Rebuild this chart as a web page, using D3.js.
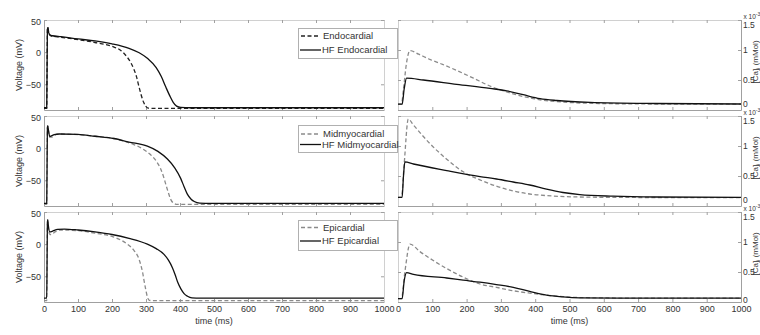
<!DOCTYPE html>
<html><head><meta charset="utf-8">
<script src="https://cdn.jsdelivr.net/npm/d3@7"></script>
<style>
body{margin:0;background:#fff;}
svg{display:block;font-family:"Liberation Sans",Arial,Helvetica,sans-serif;}
</style></head><body>
<svg id="c" width="760" height="335"></svg>
<script>
// ---------- data ----------
const timeTicks = [0,100,200,300,400,500,600,700,800,900,1000];
const voltTicks = [-50,0,50];
const caTicks = [0,0.5,1,1.5];
const normalNames = ["Endocardial","Midmyocardial","Epicardial"];
const hfNames = ["HF Endocardial","HF Midmyocardial","HF Epicardial"];

// action potentials [time ms, voltage mV]
const apEndo = [[0,-87.5],[8,-87.5],[9,-30],[10,34],[11,39],[12,37],[14,31],[17,27],[22,25],[35,24],[50,23],[100,19.5],[150,15],[200,9],[225,3],[245,-8],[255,-16],[264,-26],[272,-38],[279,-53],[286,-67],[293,-78],[299,-84],[306,-87],[330,-87.5],[1000,-87.5]];
const apEndoHF = [[0,-86.5],[8,-86.5],[9,-30],[10,35],[11,38],[12,36],[14,30],[18,26.5],[25,25.5],[50,24],[100,20.5],[150,17.5],[200,13],[250,6],[280,-1],[305,-10],[330,-24],[345,-38],[358,-54],[370,-68],[380,-78],[390,-84],[402,-86],[430,-86.5],[1000,-86.5]];
const apMid = [[0,-87.5],[8,-87.5],[9,-30],[10,30],[11,34],[13,28],[17,17],[22,17],[30,20],[45,22],[100,21],[150,18.5],[205,15],[240,10],[263,6],[290,-1],[313,-10],[330,-20],[343,-32],[352,-45],[358,-56],[365,-68],[372,-79],[380,-85],[392,-87.5],[1000,-87.5]];
const apMidHF = [[0,-86],[8,-86],[9,-30],[10,32],[11,35],[13,28],[17,18],[22,19],[30,21],[45,22],[100,21.5],[150,18.5],[205,15],[250,9.5],[304,3],[335,-5],[363,-17],[385,-31],[402,-47],[412,-60],[422,-72],[432,-79],[442,-83],[458,-85.5],[490,-86],[1000,-86]];
const apEpi = [[0,-88],[8,-88],[9,-30],[10,30],[11,34],[13,24],[17,15],[22,15],[32,19],[50,22],[100,21],[150,17],[200,12],[215,9],[245,0],[265,-10],[276,-19],[284,-31],[290,-44],[294,-56],[299,-70],[304,-82],[310,-87.5],[330,-88],[1000,-88]];
const apEpiHF = [[0,-84],[8,-84],[9,-30],[10,34],[11,38],[13,28],[17,19],[24,20],[40,23],[60,23.5],[100,22],[150,19],[200,15],[250,9],[304,0],[330,-7],[353,-16],[366,-25],[378,-37],[386,-48],[393,-59],[403,-70],[412,-77],[422,-81],[435,-83.5],[460,-84],[1000,-84]];

// calcium transients [time ms, concentration x10^-3 mMol]
const caEndo = [[0,0.097],[10,0.097],[16,0.35],[24,0.75],[35,0.99],[60,0.93],[90,0.85],[130,0.76],[171,0.66],[220,0.53],[268,0.40],[317,0.30],[365,0.225],[414,0.17],[463,0.14],[511,0.122],[560,0.112],[657,0.103],[800,0.099],[1000,0.097]];
const caEndoHF = [[0,0.097],[12,0.097],[18,0.35],[25,0.53],[74,0.50],[171,0.428],[268,0.36],[317,0.32],[365,0.255],[414,0.19],[463,0.158],[560,0.127],[750,0.108],[1000,0.1]];
const caMid = [[0,0.145],[10,0.145],[18,0.7],[30,1.45],[45,1.35],[93,1.04],[142,0.78],[190,0.57],[239,0.435],[287,0.33],[336,0.25],[384,0.2],[433,0.173],[530,0.15],[700,0.142],[1000,0.14]];
const caMidHF = [[0,0.145],[12,0.145],[16,0.5],[20,0.734],[45,0.70],[142,0.59],[239,0.49],[287,0.45],[336,0.40],[384,0.35],[433,0.28],[481,0.225],[530,0.19],[627,0.163],[750,0.15],[1000,0.145]];
const caEpi = [[0,0.057],[10,0.057],[20,0.5],[35,0.966],[64,0.84],[93,0.727],[142,0.557],[190,0.415],[239,0.30],[287,0.244],[336,0.1875],[384,0.148],[433,0.114],[481,0.09],[530,0.074],[650,0.066],[1000,0.065]];
const caEpiHF = [[0,0.057],[12,0.057],[18,0.35],[25,0.49],[45,0.46],[142,0.40],[190,0.364],[239,0.33],[287,0.29],[336,0.244],[384,0.176],[433,0.114],[481,0.085],[530,0.07],[650,0.065],[1000,0.065]];

// ---------- layout ----------
const rowsAP = [[apEndo, apEndoHF],[apMid, apMidHF],[apEpi, apEpiHF]];
const rowsCa = [[caEndo, caEndoHF],[caMid, caMidHF],[caEpi, caEpiHF]];
const rowTop = [20,116,212], rowH = 90;
const leftX = [44,384], rightX = [398,741];
const legendBox = [{y:28,h:30,y1:36,y2:50},{y:125,h:27,y1:134,y2:144.5},{y:220,h:30,y1:227.5,y2:241}];
const dashNormLeft = ["#222","#8a8a8a","#8a8a8a"];
const dashNormRight = "#8a8a8a";
const axisColor = "#a0a0a0";
const textColor = "#333";
const font = "Liberation Sans, Arial, sans-serif";

const svg = d3.select("#c");
svg.append("rect").attr("width",760).attr("height",335).attr("fill","#fff");

function styleAxis(g, showLabels, fs){
  g.attr("font-family", font).attr("font-size", fs||9).attr("color", textColor);
  g.select(".domain").attr("stroke", axisColor);
  g.selectAll(".tick line").attr("stroke", axisColor);
  if(!showLabels) g.selectAll(".tick text").remove();
}

for(let i=0;i<3;i++){
  const top = rowTop[i], bot = top+rowH;
  const xL = d3.scaleLinear().domain([0,1000]).range(leftX);
  const xR = d3.scaleLinear().domain([0,1000]).range(rightX);
  const yV = d3.scaleLinear().domain([-90,50]).range([bot,top]);
  const yC = d3.scaleLinear().domain([0,1.5]).range([bot,top]);
  const last = i===2;

  // ----- left panel (voltage) -----
  const gL = svg.append("g");
  gL.append("g").attr("transform",`translate(0,${bot})`)
    .call(d3.axisBottom(xL).tickValues(timeTicks).tickFormat(d3.format("d")).tickSizeInner(-3).tickSizeOuter(0).tickPadding(4))
    .call(g=>styleAxis(g,last));
  gL.append("g").attr("transform",`translate(0,${top})`)
    .call(d3.axisTop(xL).tickValues(timeTicks).tickSizeInner(-3).tickSizeOuter(0))
    .call(g=>styleAxis(g,false)).select(".domain").attr("stroke","#d0d0d0");
  gL.append("g").attr("transform",`translate(${leftX[0]},0)`)
    .call(d3.axisLeft(yV).tickValues(voltTicks).tickSizeInner(-3).tickSizeOuter(0).tickPadding(3))
    .call(g=>styleAxis(g,true))
    .selectAll(".tick text").attr("dy", d=> d===50 ? "0.55em" : "0.32em");
  gL.append("g").attr("transform",`translate(${leftX[1]},0)`)
    .call(d3.axisRight(yV).tickValues(voltTicks).tickSizeInner(-3).tickSizeOuter(0))
    .call(g=>styleAxis(g,false)).select(".domain").attr("stroke","#d0d0d0");

  const lineL = d3.line().x(d=>xL(d[0])).y(d=>yV(d[1])).curve(d3.curveMonotoneX);
  gL.append("path").datum(rowsAP[i][0]).attr("d",lineL).attr("fill","none")
    .attr("stroke",dashNormLeft[i]).attr("stroke-width",1.3).attr("stroke-dasharray","4,2.5");
  gL.append("path").datum(rowsAP[i][1]).attr("d",lineL).attr("fill","none")
    .attr("stroke","#111").attr("stroke-width",1.3);

  gL.append("text").attr("transform",`translate(22,${(top+bot)/2}) rotate(-90)`)
    .attr("text-anchor","middle").attr("font-family",font).attr("font-size",9).attr("fill",textColor)
    .text("Voltage (mV)");
  if(last){
    svg.append("text").attr("x",(leftX[0]+leftX[1])/2).attr("y",324).attr("text-anchor","middle")
      .attr("font-family",font).attr("font-size",9).attr("fill",textColor).text("time (ms)");
  }

  // ----- right panel (calcium) -----
  const gR = svg.append("g");
  gR.append("g").attr("transform",`translate(0,${bot})`)
    .call(d3.axisBottom(xR).tickValues(timeTicks).tickFormat(d3.format("d")).tickSizeInner(-3).tickSizeOuter(0).tickPadding(4))
    .call(g=>styleAxis(g,last));
  gR.append("g").attr("transform",`translate(0,${top})`)
    .call(d3.axisTop(xR).tickValues(timeTicks).tickSizeInner(-3).tickSizeOuter(0))
    .call(g=>styleAxis(g,false)).select(".domain").attr("stroke","#d0d0d0");
  gR.append("g").attr("transform",`translate(${rightX[1]},0)`)
    .call(d3.axisRight(yC).tickValues(caTicks).tickSizeInner(-3).tickSizeOuter(0).tickPadding(2).tickFormat(d=>d))
    .call(g=>styleAxis(g,true,8.5))
    .selectAll(".tick text").attr("dy", d=> d===1.5 ? "0.9em" : (d===0 ? (last ? "0.05em" : "-0.4em") : "0.32em"));
  gR.append("g").attr("transform",`translate(${rightX[0]},0)`)
    .call(d3.axisLeft(yC).tickValues(caTicks).tickSizeInner(-3).tickSizeOuter(0))
    .call(g=>styleAxis(g,false)).select(".domain").attr("stroke","#d0d0d0");

  const lineR = d3.line().x(d=>xR(d[0])).y(d=>yC(d[1])).curve(d3.curveMonotoneX);
  gR.append("path").datum(rowsCa[i][0]).attr("d",lineR).attr("fill","none")
    .attr("stroke",dashNormRight).attr("stroke-width",1.3).attr("stroke-dasharray","4,2.5");
  gR.append("path").datum(rowsCa[i][1]).attr("d",lineR).attr("fill","none")
    .attr("stroke","#111").attr("stroke-width",1.3);

  // exponent label
  const ex = gR.append("text").attr("x",743.5).attr("y",top-1.5).attr("font-family",font)
    .attr("font-size",6.5).attr("fill",textColor);
  ex.append("tspan").text("x 10");
  ex.append("tspan").attr("dy",-2.5).attr("font-size",5).text("-3");
  // y label
  const yl = gR.append("text").attr("transform",`translate(757.5,${(top+bot)/2 - 3}) rotate(-90)`)
    .attr("text-anchor","middle").attr("font-family",font).attr("font-size",8).attr("fill",textColor);
  yl.append("tspan").text("[Ca]");
  yl.append("tspan").attr("dy",2).attr("font-size",6).text("i");
  yl.append("tspan").attr("dy",-2).text(" (mMol)");
  if(last){
    svg.append("text").attr("x",(rightX[0]+rightX[1])/2).attr("y",324).attr("text-anchor","middle")
      .attr("font-family",font).attr("font-size",9).attr("fill",textColor).text("time (ms)");
  }

  // ----- legend -----
  const lb = legendBox[i];
  const lg = svg.append("g");
  lg.append("rect").attr("x",298.5).attr("y",lb.y+0.5).attr("width",99).attr("height",lb.h)
    .attr("fill","#fff").attr("stroke","#b0b0b0");
  lg.append("line").attr("x1",301).attr("x2",320).attr("y1",lb.y1).attr("y2",lb.y1)
    .attr("stroke",dashNormLeft[i]).attr("stroke-width",1.3).attr("stroke-dasharray","4,2.5");
  lg.append("line").attr("x1",300).attr("x2",321).attr("y1",lb.y2).attr("y2",lb.y2)
    .attr("stroke","#111").attr("stroke-width",1.3);
  lg.append("text").attr("x",323).attr("y",lb.y1).attr("dy","0.35em").attr("font-family",font)
    .attr("font-size",9.5).attr("fill",textColor).text(normalNames[i]);
  lg.append("text").attr("x",322).attr("y",lb.y2).attr("dy","0.35em").attr("font-family",font)
    .attr("font-size",9.5).attr("fill",textColor).text(hfNames[i]);
}
</script>
</body></html>
